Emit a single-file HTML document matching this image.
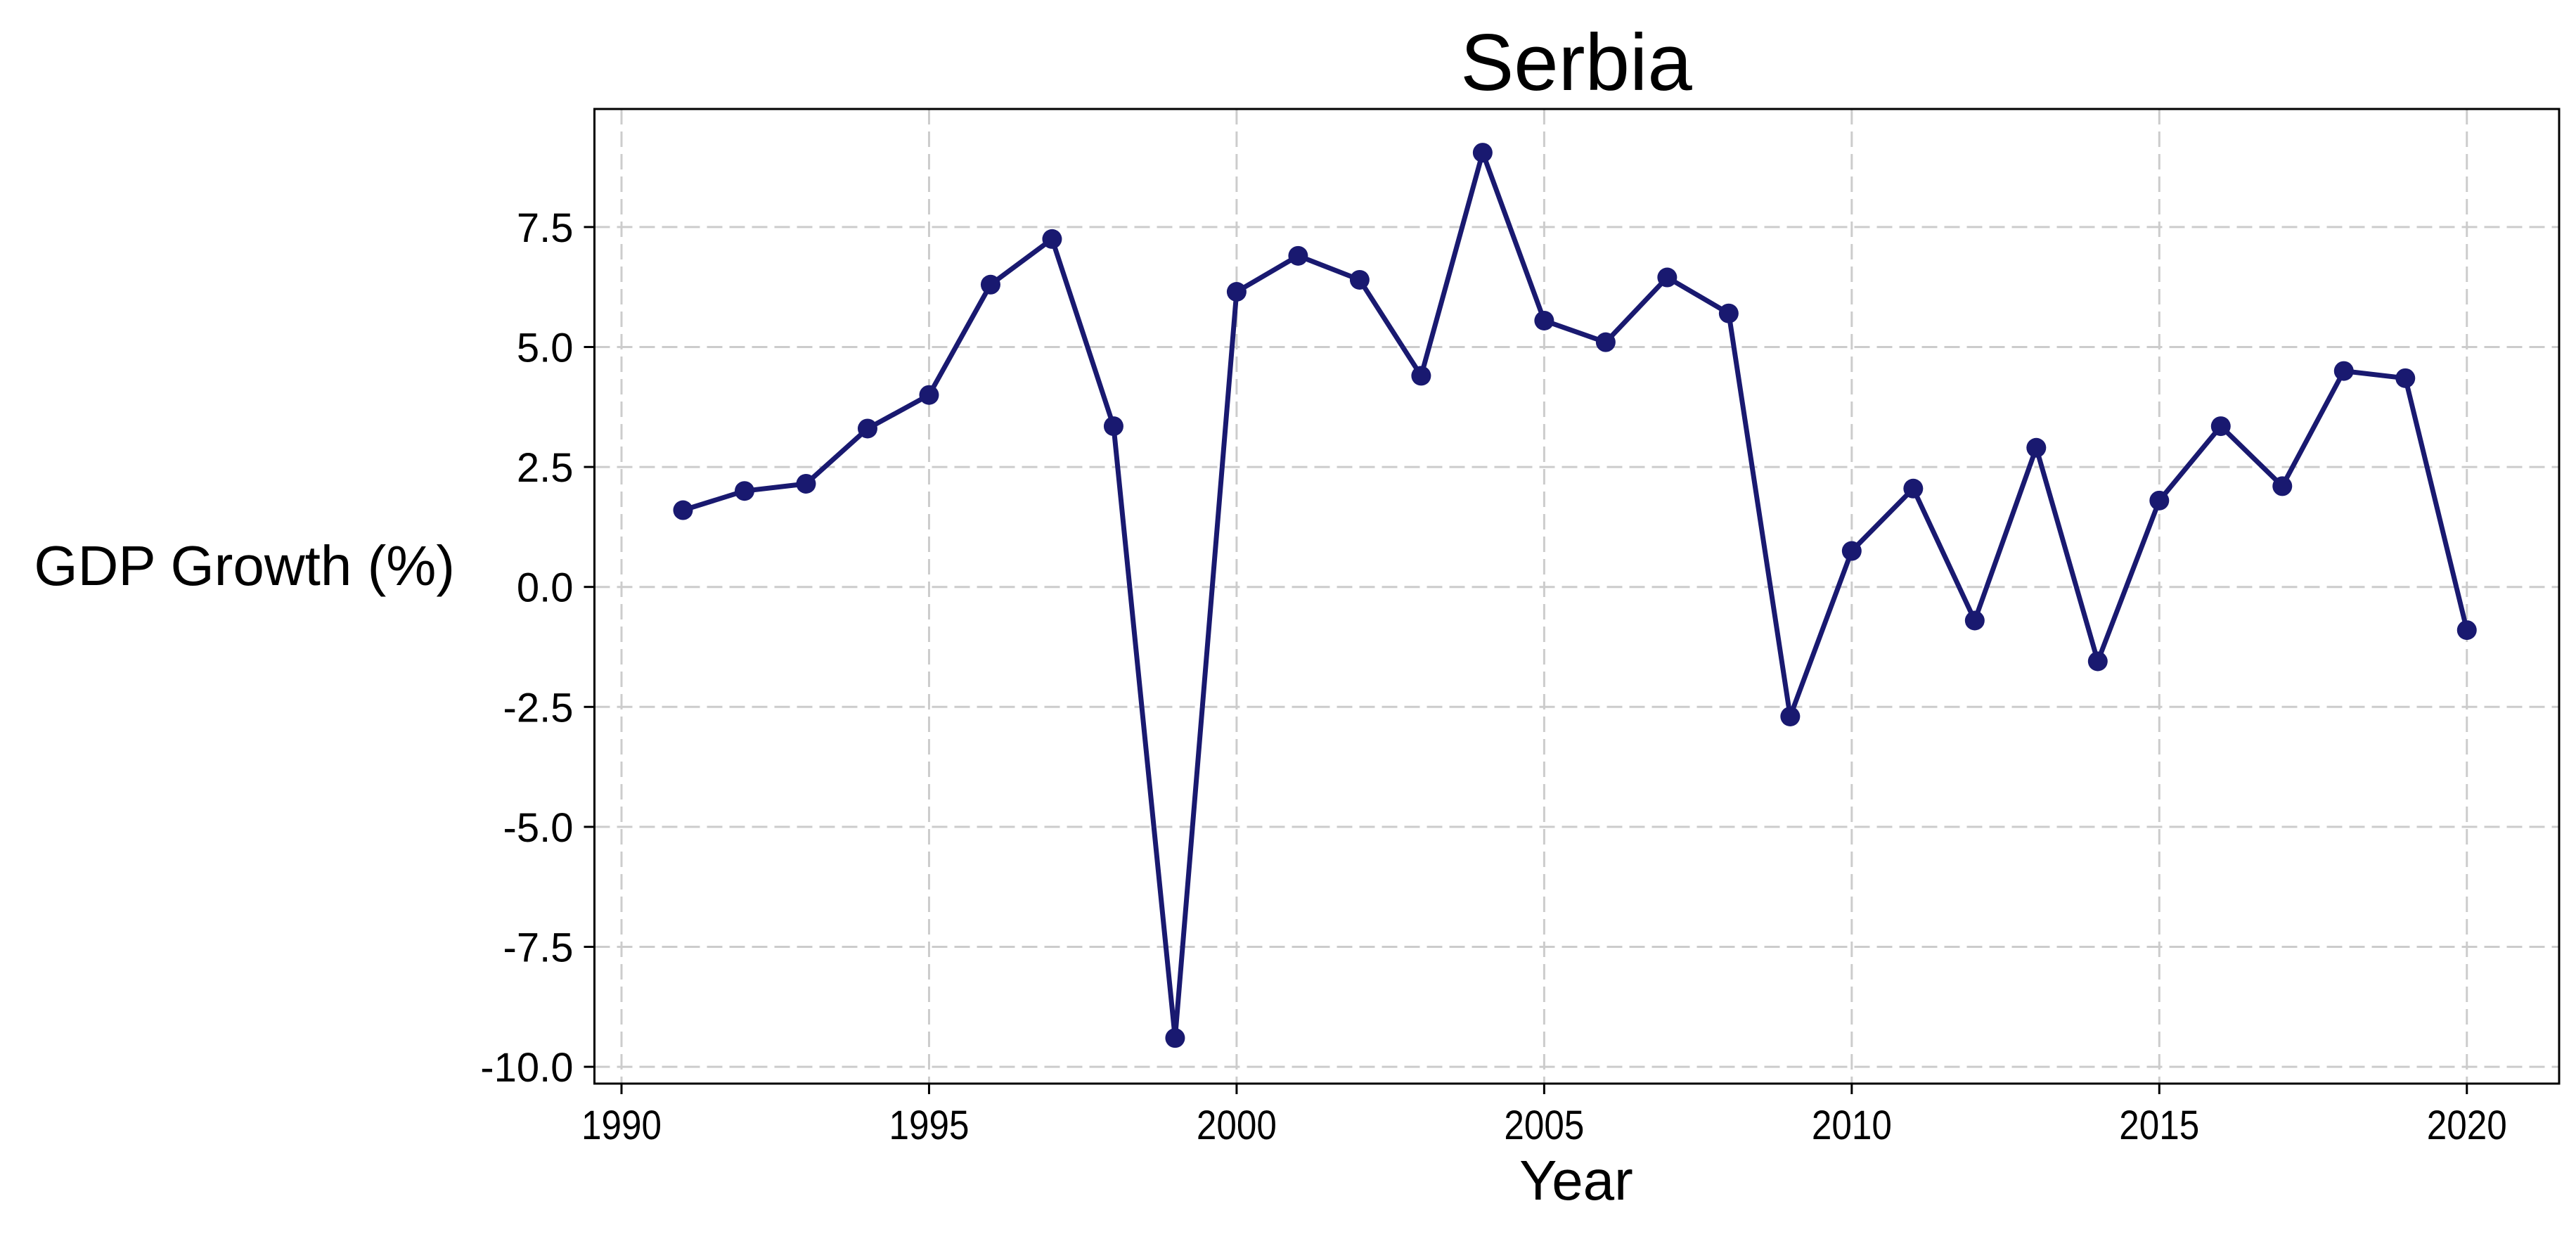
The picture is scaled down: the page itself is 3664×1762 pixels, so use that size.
<!DOCTYPE html>
<html><head><meta charset="utf-8"><style>html,body{margin:0;padding:0;background:#fff}svg{display:block}text{font-family:"Liberation Sans",sans-serif;fill:#000}</style></head>
<body>
<svg id="chart" width="3664" height="1762" viewBox="0 0 3664 1762" xmlns="http://www.w3.org/2000/svg">
<rect width="3664" height="1762" fill="#fff"/>
<g id="grid"></g>
<g id="ticks"></g>
<g id="series"></g>
<rect x="845.5" y="155" width="2794.5" height="1386" fill="none" stroke="#000" stroke-width="3"/>
<text x="2242" y="128" font-size="114" text-anchor="middle">Serbia</text>
<text x="2242" y="1706" font-size="80" text-anchor="middle">Year</text>
<text x="647" y="832" font-size="80" text-anchor="end">GDP Growth (%)</text>
</svg>
<script>
const years=[1991,1992,1993,1994,1995,1996,1997,1998,1999,2000,2001,2002,2003,2004,2005,2006,2007,2008,2009,2010,2011,2012,2013,2014,2015,2016,2017,2018,2019,2020];
const growth=[1.6,2.0,2.15,3.3,4.0,6.3,7.25,3.35,-9.4,6.15,6.9,6.4,4.4,9.05,5.55,5.1,6.45,5.7,-2.7,0.75,2.05,-0.7,2.9,-1.55,1.8,3.35,2.1,4.5,4.35,-0.9];
const xTicks=[1990,1995,2000,2005,2010,2015,2020];
const yTicks=[-10,-7.5,-5,-2.5,0,2.5,5,7.5];
const yTickLabels=["-10.0","-7.5","-5.0","-2.5","0.0","2.5","5.0","7.5"];
const NS="http://www.w3.org/2000/svg";
const L=845.5,R=3640,T=155,B=1541;
const x0=1989.56,x1=2021.5,y0=-10.35,y1=9.96;
function sx(v){return L+(v-x0)/(x1-x0)*(R-L);}
function sy(v){return B-(v-y0)/(y1-y0)*(B-T);}
function mk(tag,attrs,parent){const e=document.createElementNS(NS,tag);for(const k in attrs)e.setAttribute(k,attrs[k]);parent.appendChild(e);return e;}
const grid=document.getElementById('grid'),ticks=document.getElementById('ticks'),series=document.getElementById('series');
xTicks.forEach(t=>{
  const X=sx(t);
  const g=mk('line',{x1:X,x2:X,y1:T,y2:B,stroke:'#cccccc','stroke-width':3,'stroke-dasharray':'22,10'},grid);
  
  
  const tk=mk('line',{x1:X,x2:X,y1:B,y2:B+15,stroke:'#000','stroke-width':3},ticks);
  
  
  const tx=mk('text',{x:X,y:1620,'font-size':58,'text-anchor':'middle','textLength':114,'lengthAdjust':'spacingAndGlyphs'},ticks);
  tx.textContent=t;
  
  
});
yTicks.forEach((t,i)=>{
  const Y=sy(t);
  const g=mk('line',{x1:L,x2:R,y1:Y,y2:Y,stroke:'#cccccc','stroke-width':3,'stroke-dasharray':'22,10'},grid);
  
  
  const tk=mk('line',{x1:L-15,x2:L,y1:Y,y2:Y,stroke:'#000','stroke-width':3},ticks);
  
  
  const tx=mk('text',{x:L-30,y:Y+21,'font-size':58,'text-anchor':'end'},ticks);
  tx.textContent=yTickLabels[i];
  
  
});
const pts=years.map((y,i)=>sx(y).toFixed(1)+','+sy(growth[i]).toFixed(1)).join(' ');
const pl=mk('polyline',{points:pts,fill:'none',stroke:'#191970','stroke-width':7,'stroke-linejoin':'round'},series);


years.forEach((y,i)=>{
  const c=mk('circle',{cx:sx(y),cy:sy(growth[i]),r:14,fill:'#191970'},series);
  
  
});
</script>
</body></html>
